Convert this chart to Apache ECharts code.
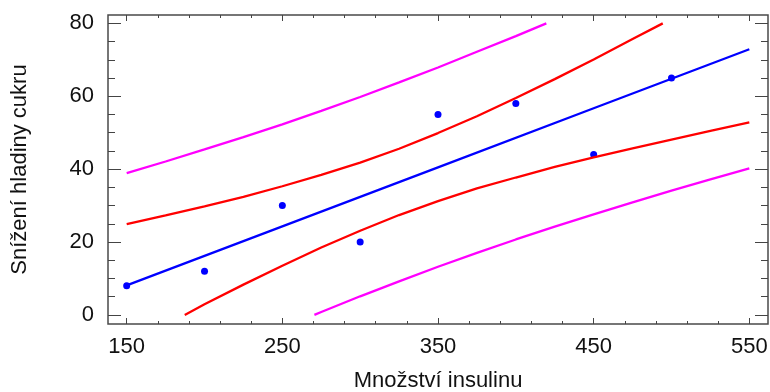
<!DOCTYPE html>
<html>
<head>
<meta charset="utf-8">
<script src="https://cdn.jsdelivr.net/npm/echarts@6/dist/echarts.min.js"></script>
<style>
  html, body { margin: 0; padding: 0; background: #fff; }
  #chart { width: 770px; height: 392px; }
</style>
</head>
<body>
<div id="chart"></div>
<script>
// observed points (insulin dose vs. drop of blood sugar)
const insulin = [150, 200, 250, 300, 350, 400, 450, 500]
const sugarDrop = [8, 12, 30, 20, 55, 58, 44, 65]

// fitted line and bands
const fitLine = [[150, 8.1], [250, 24.3], [350, 40.5], [450, 56.7], [550, 72.9]]
const confUpper = [[150, 24.9], [175, 27.3], [200, 29.8], [225, 32.4], [250, 35.3], [275, 38.4], [300, 41.8],
  [325, 45.6], [350, 49.9], [375, 54.5], [400, 59.5], [425, 64.7], [450, 70.1], [475, 75.7], [494.4, 80]]
const confLower = [[187.3, 0], [200, 2.9], [225, 8.3], [250, 13.5], [275, 18.5], [300, 23.1], [325, 27.4],
  [350, 31.2], [375, 34.7], [400, 37.7], [425, 40.6], [450, 43.2], [475, 45.7], [500, 48.1], [525, 50.5], [550, 52.8]]
const predUpper = [[150, 38.9], [175, 42.1], [200, 45.4], [225, 48.8], [250, 52.3], [275, 56.0], [300, 59.8],
  [325, 63.8], [350, 67.9], [375, 72.2], [400, 76.5], [419.6, 80]]
const predLower = [[270.6, 0], [275, 0.8], [300, 5.1], [325, 9.2], [350, 13.2], [375, 17.0], [400, 20.7],
  [425, 24.2], [450, 27.6], [475, 30.9], [500, 34.1], [525, 37.2], [550, 40.2]]

// tick labels and tick marks
const xLabels = [150, 250, 350, 450, 550]
const xMinor = [150, 170, 190, 210, 230, 250, 270, 290, 310, 330, 350, 370, 390, 410, 430, 450, 470, 490, 510, 530, 550]
const yLabels = [0, 20, 40, 60, 80]
const yMinor = [0, 5, 10, 15, 20, 25, 30, 35, 40, 45, 50, 55, 60, 65, 70, 75, 80]

const font = 'Liberation Sans, Arial, sans-serif'
const tickColor = '#444'

const xAxisOf = (position, ticks, len, withLabel) => ({
  type: 'value',
  position,
  min: 138,
  max: 562,
  axisLine: { show: false, onZero: false },
  splitLine: { show: false },
  axisTick: { show: true, inside: true, length: len, customValues: ticks, lineStyle: { color: tickColor, width: 1 } },
  axisLabel: withLabel
    ? { show: true, customValues: xLabels, margin: 12, fontSize: 22, color: '#111', fontFamily: font }
    : { show: false },
})

const yAxisOf = (position, ticks, len, withLabel) => ({
  type: 'value',
  position,
  min: -2.5,
  max: 82.3,
  axisLine: { show: false, onZero: false },
  splitLine: { show: false },
  axisTick: { show: true, inside: true, length: len, customValues: ticks, lineStyle: { color: tickColor, width: 1 } },
  axisLabel: withLabel
    ? { show: true, customValues: yLabels, margin: 14, fontSize: 22, color: '#111', fontFamily: font }
    : { show: false },
})

const chart = echarts.init(document.getElementById('chart'))

const xMain = xAxisOf('bottom', xLabels, 6, true)
xMain.name = 'Množství insulinu'
xMain.nameLocation = 'middle'
xMain.nameGap = 46
xMain.nameTextStyle = { fontSize: 22, color: '#111', fontFamily: font }

const yMain = yAxisOf('left', yLabels, 13, true)
yMain.name = 'Snížení hladiny cukru'
yMain.nameLocation = 'middle'
yMain.nameGap = 77
yMain.nameTextStyle = { fontSize: 22, color: '#111', fontFamily: font }

const line = (data, color) => ({
  type: 'line',
  data,
  showSymbol: false,
  smooth: false,
  xAxisIndex: 0,
  yAxisIndex: 0,
  lineStyle: { color, width: 2.3 },
  itemStyle: { color },
  silent: true,
})

chart.setOption({
  animation: false,
  backgroundColor: '#fff',
  grid: {
    left: 108,
    right: 2,
    top: 15,
    bottom: 68,
    outerBoundsMode: 'none',
    containLabel: false,
    show: true,
    borderColor: '#4a4a4a',
    borderWidth: 1.5,
    backgroundColor: 'transparent',
  },
  xAxis: [
    xMain,
    xAxisOf('bottom', xMinor, 3, false),
    xAxisOf('top', xLabels, 6, false),
    xAxisOf('top', xMinor, 3, false),
  ],
  yAxis: [
    yMain,
    yAxisOf('left', yMinor, 7, false),
    yAxisOf('right', yLabels, 13, false),
    yAxisOf('right', yMinor, 7, false),
  ],
  series: [
    line(predUpper, '#ff00ff'),
    line(predLower, '#ff00ff'),
    line(confUpper, '#ff0000'),
    line(confLower, '#ff0000'),
    line(fitLine, '#0000ff'),
    {
      type: 'scatter',
      data: insulin.map((x, i) => [x, sugarDrop[i]]),
      symbol: 'circle',
      symbolSize: 7,
      itemStyle: { color: '#0000ff', opacity: 1 },
      xAxisIndex: 0,
      yAxisIndex: 0,
    },
  ],
})
</script>
</body>
</html>
